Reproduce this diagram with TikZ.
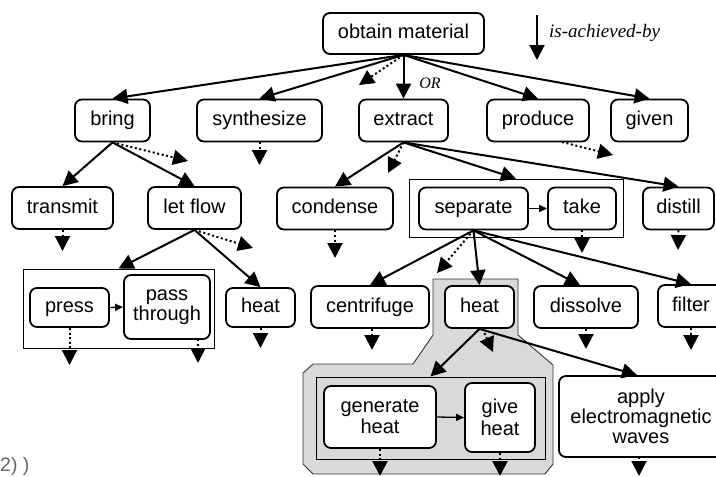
\documentclass[tikz,border=0pt]{standalone}
\usepackage{fontspec}
\setmainfont{Liberation Sans}
\newfontfamily\tnr{Liberation Serif}
\usetikzlibrary{arrows.meta}
\begin{document}
\begin{tikzpicture}[x=1pt,y=-1pt,
  box/.style={draw, line width=1.8pt, rounded corners=7pt, fill=white, align=center,
    inner sep=0pt, font=\fontsize{20}{20}\selectfont},
  sbox/.style={box, text height=14.5pt, text depth=4pt},
  grp/.style={draw, line width=1pt, inner sep=0pt},
  ach/.style={line width=2pt, -{Triangle[length=15pt,width=15pt]}},
  alt/.style={line width=2pt, dash pattern=on 2pt off 2.6pt, -{Triangle[length=15pt,width=15pt]}},
  seq/.style={line width=1.3pt, -{Triangle[length=8pt,width=7pt]}}
]
\useasboundingbox (0,0) rectangle (716,477);
% gray region
\filldraw[fill=black!15, draw=black!80, line width=0.9pt]
  (433,279) -- (518,279) -- (518,335) -- (553,365) -- (553,464) -- (545,474)
  -- (313,474) -- (303,464) -- (303,373) -- (313,364) -- (413,364) -- (433,335) -- cycle;
% group rectangles
\node[grp, minimum width=214, minimum height=58] (sepgrp) at (516,208) {};
\node[grp, minimum width=191, minimum height=79] (prsgrp) at (118.5,308.5) {};
\node[grp, minimum width=229, minimum height=82] (gengrp) at (430.5,418) {};
% level 0
\node[sbox, minimum width=161, minimum height=41] (om) at (403.5,33.5) {obtain material};
% level 1
\node[sbox, minimum width=75, minimum height=42] (bring) at (112.5,120.5) {bring};
\node[sbox, minimum width=125, minimum height=42] (synth) at (259.5,120.5) {synthesize};
\node[sbox, minimum width=89, minimum height=42] (extract) at (403.5,120.5) {extract};
\node[sbox, minimum width=102, minimum height=42] (produce) at (538,120.5) {produce};
\node[sbox, minimum width=77, minimum height=42] (given) at (649.5,120.5) {given};
% level 2
\node[sbox, minimum width=101, minimum height=42] (transmit) at (62.5,208) {transmit};
\node[sbox, minimum width=93, minimum height=42] (letflow) at (194.5,208) {let flow};
\node[sbox, minimum width=116, minimum height=42] (condense) at (335,208.5) {condense};
\node[sbox, minimum width=109, minimum height=42] (separate) at (473.5,208.5) {separate};
\node[sbox, minimum width=68, minimum height=42] (take) at (582,208.5) {take};
\node[sbox, minimum width=71, minimum height=42] (distill) at (678.5,208.5) {distill};
% level 3
\node[sbox, minimum width=79, minimum height=39] (press) at (69.5,307.5) {press};
\node[box, minimum width=86, minimum height=64, font=\fontsize{20}{18.5}\selectfont] (pass) at (167,307) {pass\\through};
\node[sbox, minimum width=69, minimum height=39] (heatL) at (260.5,307.5) {heat};
\node[sbox, minimum width=118, minimum height=42] (centri) at (370,307) {centrifuge};
\node[sbox, minimum width=69, minimum height=42] (heatM) at (479.5,307) {heat};
\node[sbox, minimum width=104, minimum height=42] (dissolve) at (586,307) {dissolve};
\node[sbox, minimum width=66, minimum height=42] (filter) at (691,306) {filter};
% level 4
\node[box, minimum width=112, minimum height=62, font=\fontsize{20}{21}\selectfont] (generate) at (380,417) {generate\\heat};
\node[box, minimum width=70, minimum height=69, font=\fontsize{20}{21.5}\selectfont] (give) at (500,417.5) {give\\heat};
\node[box, minimum width=164, minimum height=81] (apply) at (641,416.5) {apply\\electromagnetic\\waves};
% free ends of alternative arrows
\coordinate (eOm) at (359,85);
\coordinate (eBring) at (188,161);
\coordinate (eSynth) at (259.5,165);
\coordinate (sProd) at (562,142);
\coordinate (eProd) at (613,155);
\coordinate (eExtract) at (388,173);
\coordinate (eTransmit) at (62.5,251);
\coordinate (eLetflow) at (253,248);
\coordinate (eCondense) at (335,258);
\coordinate (eSeparate) at (437,273);
\coordinate (eTake) at (582,253);
\coordinate (eDistill) at (678,250);
\coordinate (ePress) at (69.5,365);
\coordinate (sPass) at (198,339);
\coordinate (ePass) at (198,363);
\coordinate (eHeatL) at (260.5,348);
\coordinate (eCentri) at (372,350);
\coordinate (eHeatM) at (493,352);
\coordinate (eDissolve) at (586,349);
\coordinate (eFilter) at (691,350);
\coordinate (eGenerate) at (380,476);
\coordinate (eGive) at (500,476);
\coordinate (sApply) at (639,457);
\coordinate (eApply) at (639,476);
% is-achieved-by arrows
\draw[ach] (om.south) -- (bring.north);
\draw[ach] (om.south) -- (synth.north);
\draw[ach] (om.south) -- (extract.north);
\draw[ach] (om.south) -- (produce.north);
\draw[ach] (om.south) -- (given.north);
\draw[ach] (bring.south) -- (transmit.north);
\draw[ach] (bring.south) -- (letflow.north);
\draw[ach] (extract.south) -- (condense.north);
\draw[ach] (extract.south) -- (sepgrp.north);
\draw[ach] (extract.south) -- (distill.north);
\draw[ach] (letflow.south) -- (prsgrp.north);
\draw[ach] (letflow.south) -- (heatL.north);
\draw[ach] (separate.south) -- (centri.north);
\draw[ach] (separate.south) -- (heatM.north);
\draw[ach] (separate.south) -- ([xshift=-6]dissolve.north);
\draw[ach] (separate.south) -- (filter.north);
\draw[ach] (heatM.south) -- (gengrp.north);
\draw[ach] (heatM.south) -- ([xshift=-4]apply.north);
% sequence arrows
\draw[seq] (separate.east) -- (take.west);
\draw[seq] (press.east) -- (pass.west);
\draw[seq] (generate.east) -- (give.west);
% alternative (dotted) arrows
\draw[alt] (om.south) -- (eOm);
\draw[alt] (bring.south) -- (eBring);
\draw[alt] (synth.south) -- (eSynth);
\draw[alt] (sProd) -- (eProd);
\draw[alt] (extract.south) -- (eExtract);
\draw[alt] (transmit.south) -- (eTransmit);
\draw[alt] (letflow.south) -- (eLetflow);
\draw[alt] (condense.south) -- (eCondense);
\draw[alt] (separate.south) -- (eSeparate);
\draw[alt] (take.south) -- (eTake);
\draw[alt] (distill.south) -- (eDistill);
\draw[alt] (press.south) -- (ePress);
\draw[alt] (sPass) -- (ePass);
\draw[alt] (heatL.south) -- (eHeatL);
\draw[alt] ([xshift=2]centri.south) -- (eCentri);
\draw[alt] ([xshift=3]heatM.south) -- (eHeatM);
\draw[alt] (dissolve.south) -- (eDissolve);
\draw[alt] (filter.south) -- (eFilter);
\draw[alt] (generate.south) -- (eGenerate);
\draw[alt] (give.south) -- (eGive);
\draw[alt] (sApply) -- (eApply);
% labels
\node[font=\tnr\itshape\fontsize{16}{16}\selectfont] (orlbl) at (430,83) {OR};
\coordinate (legA) at (537,15);
\coordinate (legB) at (537,60);
\draw[ach] (legA) -- (legB);
\node[anchor=west, inner sep=0pt, font=\tnr\itshape\fontsize{19}{19}\selectfont] (leglbl) at (549,33) {is-achieved-by};
% fragment at bottom left
\node[anchor=base west, inner sep=0pt, text=black!60, font=\fontsize{19.5}{20}\selectfont] (frag) at (0,471) {2) )};
\end{tikzpicture}
\end{document}
